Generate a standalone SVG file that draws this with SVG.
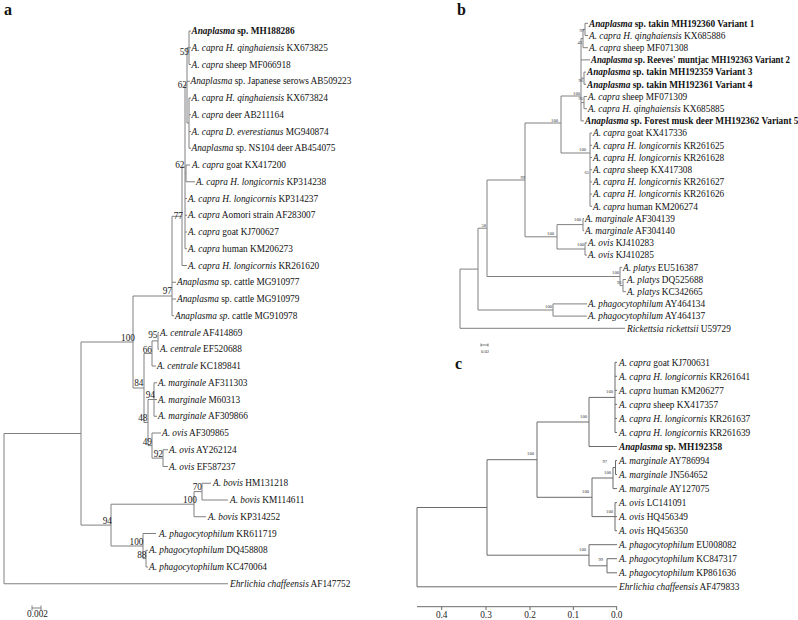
<svg xmlns="http://www.w3.org/2000/svg" width="798" height="620" viewBox="0 0 798 620">
<style>
.t{font-family:"Liberation Serif","Times New Roman",serif;font-size:9.3px;fill:#111}
.i{font-style:italic}
.b{font-weight:bold}
.bs{font-family:"Liberation Serif","Times New Roman",serif;font-size:9.3px;fill:#222;text-anchor:end}
.sm{font-family:"Liberation Serif","Times New Roman",serif;font-size:4.6px;fill:#333;text-anchor:end}
.pl{font-family:"Liberation Serif","Times New Roman",serif;font-size:16px;font-weight:bold;fill:#111}
.br{fill:none;stroke:#808080;stroke-width:1}
.brc{fill:none;stroke:#6a6a6a;stroke-width:1}
.ax{font-family:"Liberation Serif","Times New Roman",serif;font-size:9.3px;fill:#222;text-anchor:middle}
</style>
<rect width="798" height="620" fill="#fff"/>
<text class="pl" x="4" y="15">a</text>
<text class="pl" x="457" y="15">b</text>
<text class="pl" x="455" y="369">c</text>

<g id="connectors">
<path class="br" d="M189 31V64.5M189 31H191M189 47.75H191M189 64.5H191
M189 98V148.25M189 98H191M189 114.75H191M189 131.5H191M189 148.25H191
M187 47.75V123M187 47.75H189M187 81.25H190M187 123H189
M186 165V181.75M186 165H190M186 181.75H195
M185 85.4V248.75M185 85.4H187M185 173.4H186M185 198.5H187M185 215.25H187M185 232H187M185 248.75H187
M182 167V265.5M182 167H185M182 265.5H187
M172 216.3V315.75M172 216.3H182M172 282.25H176M172 299H176M172 315.75H174
M133 296V388M133 296H172M133 388H144
M144 353.4V422.5M144 353.4H152M144 422.5H148
M152 340.9V366M152 340.9H158M152 366H156
M158 332.5V349.25M158 332.5H159M158 349.25H159
M148 399.5V445.6M148 399.5H154M148 445.6H152
M154 382.75V416.25M154 382.75H157M154 399.5H157M154 416.25H157
M152 433V458.1M152 433H161M152 458.1H163
M163 449.75V466.5M163 449.75H168M163 466.5H168
M81 342V525.1M81 342H133M81 525.1H111
M111 504.2V546M111 504.2H194M111 546H143
M194 491.6V516.75M194 491.6H202M194 516.75H206
M202 483.25V500M202 483.25H211M202 500H228
M143 533.5V558.6M143 533.5H156M143 558.6H146
M146 550.25V567M146 550.25H148M146 567H148
M4 433.5V583.75M4 433.5H81M4 583.75H228"/>
<path class="br" d="M32 608H41M32 605.5V610.5M41 605.5V610.5"/>

<path class="br" d="M585 23.3V35.5M585 23.3H588M585 35.5H588
M583 29.4V47.7M583 29.4H585M583 47.7H588
M584 72.1V84.3M584 72.1H586M584 84.3H586
M584 96.5V108.7M584 96.5H587M584 108.7H587
M581 38.5V120.9M581 38.5H583M581 59.9H590M581 78.2H584M581 102.6H584M581 120.9H584
M590 133.1V206.3M590 133.1H592M590 145.3H592M590 157.5H592M590 169.7H592M590 181.9H592M590 194.1H592M590 206.3H592
M561 96V153M561 96H581M561 153H590
M525 123V236.8M525 123H561M525 236.8H557
M557 224.6V249M557 224.6H583M557 249H585
M583 218.5V230.7M583 218.5H584M583 230.7H584
M585 242.9V255.1M585 242.9H587M585 255.1H587
M487 180V276.5M487 180H525M487 276.5H620
M620 267.3V285.6M620 267.3H622M620 285.6H623
M623 279.5V291.7M623 279.5H626M623 291.7H626
M478 228.2V310M478 228.2H487M478 310H553
M553 303.9V316.1M553 303.9H587M553 316.1H587
M460 269.1V328.3M460 269.1H478M460 328.3H625"/>
<path class="br" stroke-width="0.6" d="M481 345H488M481 343.5V346.5M488 343.5V346.5"/>

<path class="brc" d="M615 362.3V432.5M615 362.3H617M615 376.3H617M615 390.4H617M615 404.4H617M615 418.4H617M615 432.5H617
M589 397.4V446.5M589 397.4H615M589 446.5H617
M615.5 460.5V474.5M615.5 460.5H617M615.5 474.5H617
M613 467.5V488.6M613 467.5H615.5M613 488.6H617
M615 502.6V530.7M615 502.6H617M615 516.6H617M615 530.7H617
M592 478V516.6M592 478H613M592 516.6H615
M537 422V497.3M537 422H589M537 497.3H592
M607 558.7V572.8M607 558.7H617M607 572.8H617
M589 544.7V565.8M589 544.7H617M589 565.8H607
M487 459.7V555.2M487 459.7H537M487 555.2H589
M417 507.5V586.8M417 507.5H487M417 586.8H617"/>
<path class="brc" d="M417 606.7H617M441.7 606.7V610M486 606.7V610M530 606.7V610M573.3 606.7V610M616.7 606.7V610"/>
</g>

<g id="panel-a-leaves">
<g id="a1"><text class="t b" x="191.5" y="34.2"><tspan class="i">Anaplasma</tspan> sp. MH188286</text></g>
<g id="a2"><text class="t" x="191.5" y="51"><tspan class="i">A. capra H. qinghaiensis</tspan> KX673825</text></g>
<g id="a3"><text class="t" x="191.5" y="67.7"><tspan class="i">A. capra</tspan> sheep MF066918</text></g>
<g id="a4"><text class="t" x="190.5" y="84.4"><tspan class="i">Anaplasma</tspan> sp. Japanese serows AB509223</text></g>
<g id="a5"><text class="t" x="191.5" y="101.2"><tspan class="i">A. capra H. qinghaiensis</tspan> KX673824</text></g>
<g id="a6"><text class="t" x="191.5" y="118"><tspan class="i">A. capra</tspan> deer AB211164</text></g>
<g id="a7"><text class="t" x="191.5" y="134.7"><tspan class="i">A. capra D. everestianus</tspan> MG940874</text></g>
<g id="a8"><text class="t" x="191.5" y="151.4"><tspan class="i">Anaplasma</tspan> sp. NS104 deer AB454075</text></g>
<g id="a9"><text class="t" x="192" y="168.2"><tspan class="i">A. capra</tspan> goat KX417200</text></g>
<g id="a10"><text class="t" x="196" y="185"><tspan class="i">A. capra H. longicornis</tspan> KP314238</text></g>
<g id="a11"><text class="t" x="188" y="201.7"><tspan class="i">A. capra H. longicornis</tspan> KP314237</text></g>
<g id="a12"><text class="t" x="188" y="218.4"><tspan class="i">A. capra</tspan> Aomori strain AF283007</text></g>
<g id="a13"><text class="t" x="188" y="235.2"><tspan class="i">A. capra</tspan> goat KJ700627</text></g>
<g id="a14"><text class="t" x="188" y="252"><tspan class="i">A. capra</tspan> human KM206273</text></g>
<g id="a15"><text class="t" x="188" y="268.7"><tspan class="i">A. capra H. longicornis</tspan> KR261620</text></g>
<g id="a16"><text class="t" x="177" y="285.4"><tspan class="i">Anaplasma</tspan> sp. cattle MG910977</text></g>
<g id="a17"><text class="t" x="177" y="302.2"><tspan class="i">Anaplasma</tspan> sp. cattle MG910979</text></g>
<g id="a18"><text class="t" x="175" y="319"><tspan class="i">Anaplasma sp.</tspan> cattle MG910978</text></g>
<g id="a19"><text class="t" x="160" y="335.7"><tspan class="i">A. centrale</tspan> AF414869</text></g>
<g id="a20"><text class="t" x="160" y="352.4"><tspan class="i">A. centrale</tspan> EF520688</text></g>
<g id="a21"><text class="t" x="157" y="369.2"><tspan class="i">A. centrale</tspan> KC189841</text></g>
<g id="a22"><text class="t" x="158" y="386"><tspan class="i">A. marginale</tspan> AF311303</text></g>
<g id="a23"><text class="t" x="158" y="402.7"><tspan class="i">A. marginale</tspan> M60313</text></g>
<g id="a24"><text class="t" x="158" y="419.4"><tspan class="i">A. marginale</tspan> AF309866</text></g>
<g id="a25"><text class="t" x="162" y="436.2"><tspan class="i">A. ovis</tspan> AF309865</text></g>
<g id="a26"><text class="t" x="169" y="453"><tspan class="i">A. ovis</tspan> AY262124</text></g>
<g id="a27"><text class="t" x="169" y="469.7"><tspan class="i">A. ovis</tspan> EF587237</text></g>
<g id="a28"><text class="t" x="213" y="486.4"><tspan class="i">A. bovis</tspan> HM131218</text></g>
<g id="a29"><text class="t" x="230" y="503.2"><tspan class="i">A. bovis</tspan> KM114611</text></g>
<g id="a30"><text class="t" x="208" y="520"><tspan class="i">A. bovis</tspan> KP314252</text></g>
<g id="a31"><text class="t" x="159" y="536.7"><tspan class="i">A. phagocytophilum</tspan> KR611719</text></g>
<g id="a32"><text class="t" x="149" y="553.4"><tspan class="i">A. phagocytophilum</tspan> DQ458808</text></g>
<g id="a33"><text class="t" x="149" y="570.2"><tspan class="i">A. phagocytophilum</tspan> KC470064</text></g>
<g id="a34"><text class="t" x="230" y="587"><tspan class="i">Ehrlichia chaffeensis</tspan> AF147752</text></g>
</g>

<g id="panel-a-support">
<text class="bs" x="189" y="55">59</text>
<text class="bs" x="187" y="88">62</text>
<text class="bs" x="184.5" y="168">62</text>
<text class="bs" x="183" y="219">77</text>
<text class="bs" x="172" y="294">97</text>
<text class="bs" x="135" y="341">100</text>
<text class="bs" x="157.5" y="338">95</text>
<text class="bs" x="152" y="353">66</text>
<text class="bs" x="143.5" y="386">84</text>
<text class="bs" x="155" y="398">94</text>
<text class="bs" x="147.5" y="421">48</text>
<text class="bs" x="152" y="445">49</text>
<text class="bs" x="163" y="457">92</text>
<text class="bs" x="202" y="490">70</text>
<text class="bs" x="197" y="503">100</text>
<text class="bs" x="112" y="524">94</text>
<text class="bs" x="143.5" y="545">100</text>
<text class="bs" x="146.5" y="558">88</text>
<text class="ax" x="37.5" y="617">0.002</text>
</g>

<g id="panel-b-leaves">
<g id="b1"><text class="t b" x="589" y="26.5"><tspan class="i">Anaplasma</tspan> sp. takin MH192360 Variant 1</text></g>
<g id="b2"><text class="t" x="589" y="38.7"><tspan class="i">A. capra H. qinghaiensis</tspan> KX685886</text></g>
<g id="b3"><text class="t" x="589" y="50.9"><tspan class="i">A. capra</tspan> sheep MF071308</text></g>
<g id="b4"><text class="t b" x="591" y="63.1" textLength="199" lengthAdjust="spacingAndGlyphs"><tspan class="i">Anaplasma</tspan> sp. Reeves' muntjac MH192363 Variant 2</text></g>
<g id="b5"><text class="t b" x="587" y="75.3"><tspan class="i">Anaplasma</tspan> sp. takin MH192359 Variant 3</text></g>
<g id="b6"><text class="t b" x="587" y="87.5"><tspan class="i">Anaplasma</tspan> sp. takin MH192361 Variant 4</text></g>
<g id="b7"><text class="t" x="588" y="99.7"><tspan class="i">A. capra</tspan> sheep MF071309</text></g>
<g id="b8"><text class="t" x="588" y="111.9"><tspan class="i">A. capra H. qinghaiensis</tspan> KX685885</text></g>
<g id="b9"><text class="t b" x="585" y="124.1"><tspan class="i">Anaplasma</tspan> sp. Forest musk deer MH192362 Variant 5</text></g>
<g id="b10"><text class="t" x="593" y="136.3"><tspan class="i">A. capra</tspan> goat KX417336</text></g>
<g id="b11"><text class="t" x="593" y="148.5"><tspan class="i">A. capra H. longicornis</tspan> KR261625</text></g>
<g id="b12"><text class="t" x="593" y="160.7"><tspan class="i">A. capra H. longicornis</tspan> KR261628</text></g>
<g id="b13"><text class="t" x="593" y="172.9"><tspan class="i">A. capra</tspan> sheep KX417308</text></g>
<g id="b14"><text class="t" x="593" y="185.1"><tspan class="i">A. capra H. longicornis</tspan> KR261627</text></g>
<g id="b15"><text class="t" x="593" y="197.3"><tspan class="i">A. capra H. longicornis</tspan> KR261626</text></g>
<g id="b16"><text class="t" x="593" y="209.5"><tspan class="i">A. capra</tspan> human KM206274</text></g>
<g id="b17"><text class="t" x="585" y="221.7"><tspan class="i">A. marginale</tspan> AF304139</text></g>
<g id="b18"><text class="t" x="585" y="233.9"><tspan class="i">A. marginale</tspan> AF304140</text></g>
<g id="b19"><text class="t" x="588" y="246.1"><tspan class="i">A. ovis</tspan> KJ410283</text></g>
<g id="b20"><text class="t" x="588" y="258.3"><tspan class="i">A. ovis</tspan> KJ410285</text></g>
<g id="b21"><text class="t" x="623" y="270.5"><tspan class="i">A. platys</tspan> EU516387</text></g>
<g id="b22"><text class="t" x="627" y="282.7"><tspan class="i">A. platys</tspan> DQ525688</text></g>
<g id="b23"><text class="t" x="627" y="294.9"><tspan class="i">A. platys</tspan> KC342665</text></g>
<g id="b24"><text class="t" x="588" y="307.1"><tspan class="i">A. phagocytophilum</tspan> AY464134</text></g>
<g id="b25"><text class="t" x="588" y="319.3"><tspan class="i">A. phagocytophilum</tspan> AY464137</text></g>
<g id="b26"><text class="t" x="627" y="331.5"><tspan class="i">Rickettsia rickettsii</tspan> U59729</text></g>
</g>

<g id="panel-b-support">
<text class="sm" x="584" y="31.5">97</text>
<text class="sm" x="582" y="43.5">43</text>
<text class="sm" x="583" y="81.5">96</text>
<text class="sm" x="580" y="94.5">100</text>
<text class="sm" x="583" y="99.5">95</text>
<text class="sm" x="586" y="151">100</text>
<text class="sm" x="589" y="173.5">65</text>
<text class="sm" x="558" y="122">100</text>
<text class="sm" x="581" y="221">100</text>
<text class="sm" x="554" y="235">100</text>
<text class="sm" x="584" y="246">100</text>
<text class="sm" x="525" y="178.5">99</text>
<text class="sm" x="486" y="226.5">58</text>
<text class="sm" x="619" y="274">100</text>
<text class="sm" x="621.5" y="284">93</text>
<text class="sm" x="552" y="308">100</text>
<text class="sm" x="489" y="353">0.02</text>
</g>

<g id="panel-c-leaves">
<g id="c1"><text class="t" x="619" y="365.5"><tspan class="i">A. capra</tspan> goat KJ700631</text></g>
<g id="c2"><text class="t" x="619" y="379.5"><tspan class="i">A. capra H. longicornis</tspan> KR261641</text></g>
<g id="c3"><text class="t" x="619" y="393.6"><tspan class="i">A. capra</tspan> human KM206277</text></g>
<g id="c4"><text class="t" x="619" y="407.6"><tspan class="i">A. capra</tspan> sheep KX417357</text></g>
<g id="c5"><text class="t" x="619" y="421.6"><tspan class="i">A. capra H. longicornis</tspan> KR261637</text></g>
<g id="c6"><text class="t" x="619" y="435.7"><tspan class="i">A. capra H. longicornis</tspan> KR261639</text></g>
<g id="c7"><text class="t b" x="619" y="449.7"><tspan class="i">Anaplasma</tspan> sp. MH192358</text></g>
<g id="c8"><text class="t" x="619" y="463.7"><tspan class="i">A. marginale</tspan> AY786994</text></g>
<g id="c9"><text class="t" x="619" y="477.7"><tspan class="i">A. marginale</tspan> JN564652</text></g>
<g id="c10"><text class="t" x="619" y="491.8"><tspan class="i">A. marginale</tspan> AY127075</text></g>
<g id="c11"><text class="t" x="619" y="505.8"><tspan class="i">A. ovis</tspan> LC141091</text></g>
<g id="c12"><text class="t" x="619" y="519.8"><tspan class="i">A. ovis</tspan> HQ456349</text></g>
<g id="c13"><text class="t" x="619" y="533.9"><tspan class="i">A. ovis</tspan> HQ456350</text></g>
<g id="c14"><text class="t" x="619" y="547.9"><tspan class="i">A. phagocytophilum</tspan> EU008082</text></g>
<g id="c15"><text class="t" x="619" y="561.9"><tspan class="i">A. phagocytophilum</tspan> KC847317</text></g>
<g id="c16"><text class="t" x="619" y="576"><tspan class="i">A. phagocytophilum</tspan> KP861636</text></g>
<g id="c17"><text class="t" x="619" y="590"><tspan class="i">Ehrlichia chaffeensis</tspan> AF479833</text></g>
</g>

<g id="panel-c-support">
<text class="sm" x="613" y="393">100</text>
<text class="sm" x="587" y="418">100</text>
<text class="sm" x="607" y="462.5">97</text>
<text class="sm" x="611" y="474">100</text>
<text class="sm" x="613" y="512.5">100</text>
<text class="sm" x="589" y="492.5">100</text>
<text class="sm" x="534" y="455">100</text>
<text class="sm" x="586" y="551">100</text>
<text class="sm" x="603" y="560.5">99</text>
<text class="ax" x="441.7" y="618">0.4</text>
<text class="ax" x="486" y="618">0.3</text>
<text class="ax" x="530" y="618">0.2</text>
<text class="ax" x="573.3" y="618">0.1</text>
<text class="ax" x="616.7" y="618">0.0</text>
</g>
</svg>
